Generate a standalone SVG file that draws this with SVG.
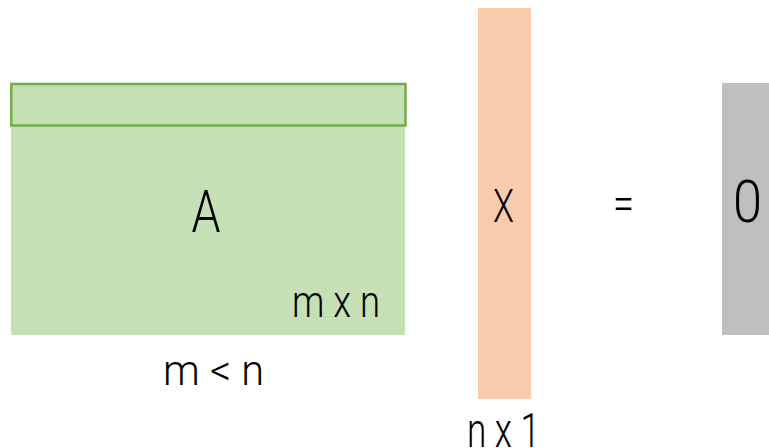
<svg xmlns="http://www.w3.org/2000/svg" width="769" height="448" viewBox="0 0 769 448">
<style>
.t{font-family:Roboto,"Liberation Sans",sans-serif;font-weight:300;fill:#000}
</style>
<rect width="769" height="448" fill="#fff"/>
<g id="matrixA">
<rect x="11" y="83" width="394" height="252" fill="#C5E0B4"/>
<rect x="11.3" y="84" width="394.2" height="41.5" fill="none" stroke="#70AD47" stroke-width="2.5"/>
<text class="t" x="206" y="232" font-size="60" text-anchor="middle" textLength="29" lengthAdjust="spacingAndGlyphs">A</text>
<text class="t" x="292" y="317" font-size="45" textLength="88" lengthAdjust="spacingAndGlyphs">m x n</text>
</g>
<text class="t" x="163" y="385" font-size="42" textLength="101" lengthAdjust="spacingAndGlyphs">m &lt; n</text>
<g id="vectorX">
<rect x="478" y="8" width="53" height="391" fill="#F8CBAD"/>
<text class="t" x="503.5" y="222" font-size="46" text-anchor="middle" textLength="21" lengthAdjust="spacingAndGlyphs">X</text>
</g>
<text class="t" x="467" y="447" font-size="48" textLength="73" lengthAdjust="spacingAndGlyphs">n x 1</text>
<text class="t" x="623.5" y="219" font-size="46" text-anchor="middle" textLength="21" lengthAdjust="spacingAndGlyphs">=</text>
<g id="zero">
<rect x="722" y="83" width="47" height="252" fill="#BFBFBF"/>
<text class="t" x="747.5" y="222" font-size="60" text-anchor="middle" textLength="29" lengthAdjust="spacingAndGlyphs">0</text>
</g>
<g id="connectors"/>
</svg>
